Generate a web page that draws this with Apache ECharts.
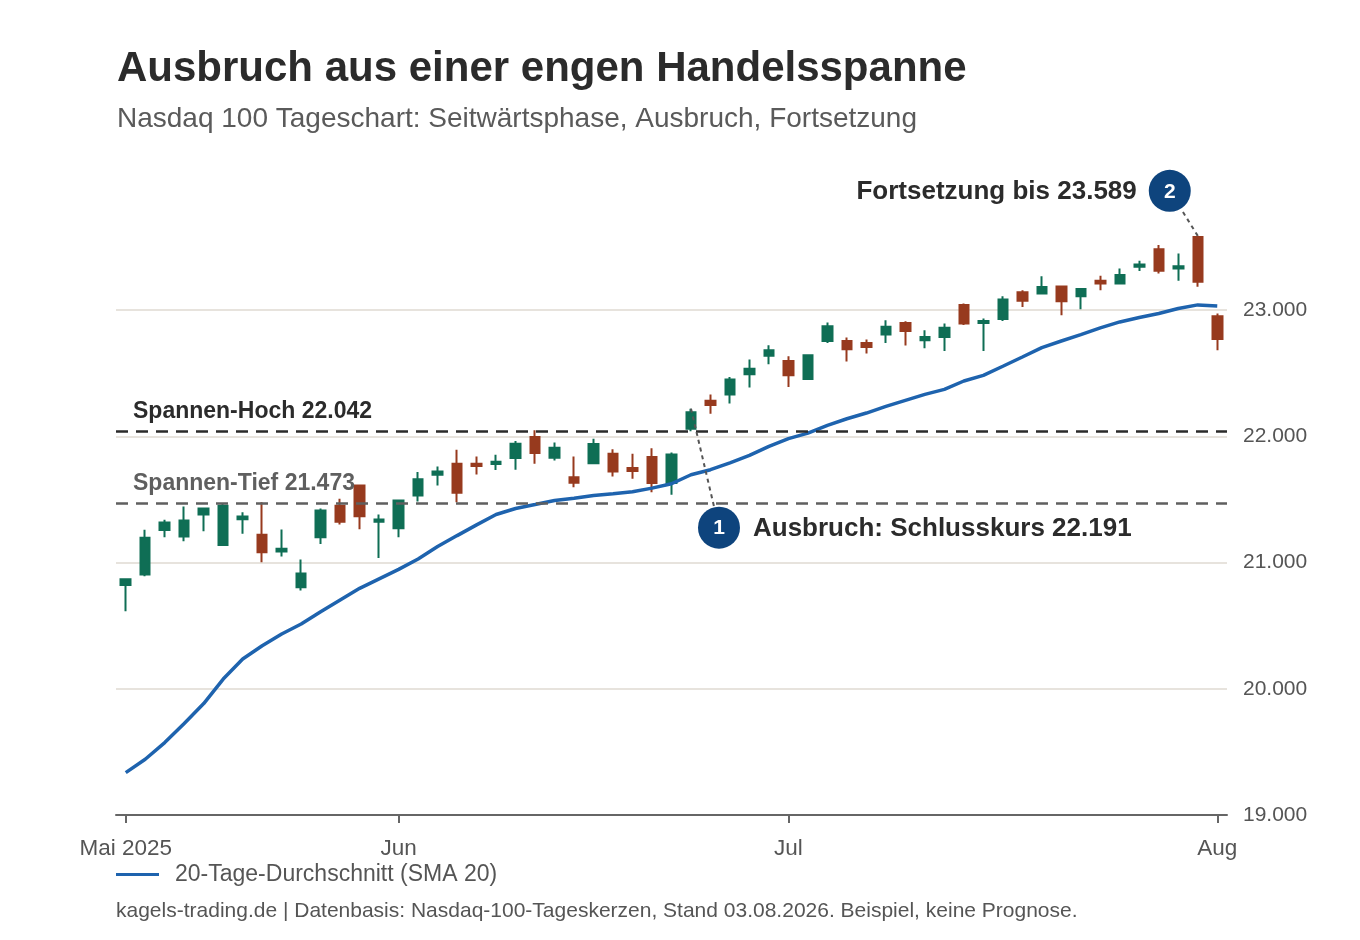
<!DOCTYPE html>
<html>
<head>
<meta charset="utf-8">
<title>Ausbruch aus einer engen Handelsspanne</title>
<script src="https://cdn.jsdelivr.net/npm/echarts@6.0.0/dist/echarts.min.js"></script>
<style>
  html, body { margin: 0; padding: 0; background: #fff; }
  #chart { width: 1360px; height: 940px; }
</style>
</head>
<body>
<div id="chart"></div>
<script>
// Handelstage 12.05. - 01.08.2025
const dates = [
  '2025-05-12','2025-05-13','2025-05-14','2025-05-15','2025-05-16','2025-05-19','2025-05-20',
  '2025-05-21','2025-05-22','2025-05-23','2025-05-27','2025-05-28','2025-05-29','2025-05-30',
  '2025-06-02','2025-06-03','2025-06-04','2025-06-05','2025-06-06','2025-06-09','2025-06-10',
  '2025-06-11','2025-06-12','2025-06-13','2025-06-16','2025-06-17','2025-06-18','2025-06-20',
  '2025-06-23','2025-06-24','2025-06-25','2025-06-26','2025-06-27','2025-06-30',
  '2025-07-01','2025-07-02','2025-07-03','2025-07-07','2025-07-08','2025-07-09','2025-07-10',
  '2025-07-11','2025-07-14','2025-07-15','2025-07-16','2025-07-17','2025-07-18','2025-07-21',
  '2025-07-22','2025-07-23','2025-07-24','2025-07-25','2025-07-28','2025-07-29','2025-07-30',
  '2025-07-31','2025-08-01'
];
const opens = [
  20823, 20905, 21259, 21206, 21381, 21140, 21344, 21220, 21087, 20804, 21201, 21450, 21611, 21323,
  21272, 21532, 21696, 21783, 21783, 21781, 21828, 21995, 21831, 21677, 21788, 21862, 21749, 21836,
  21630, 22060, 22283, 22333, 22492, 22640,
  22598, 22455, 22756, 22756, 22740, 22807, 22899, 22762, 22788, 23042, 22899, 22931, 23143, 23132,
  23188, 23111, 23233, 23212, 23344, 23482, 23331, 23580, 22952
];
const closes = [
  20868, 21196, 21317, 21333, 21429, 21450, 21365, 21082, 21109, 20913, 21413, 21323, 21368, 21341,
  21492, 21661, 21722, 21553, 21765, 21799, 21942, 21868, 21910, 21632, 21939, 21722, 21725, 21630,
  21857, 22191, 22249, 22450, 22537, 22683,
  22484, 22643, 22873, 22690, 22709, 22868, 22836, 22788, 22860, 22894, 22915, 23085, 23074, 23183,
  23071, 23167, 23212, 23278, 23363, 23312, 23349, 23225, 22772
];
const lows = [
  20614, 20891, 21201, 21169, 21248, 21135, 21228, 21002, 21048, 20778, 21148, 21302, 21265, 21037,
  21201, 21484, 21611, 21479, 21698, 21733, 21736, 21783, 21810, 21598, 21780, 21683, 21664, 21558,
  21537, 22040, 22180, 22260, 22387, 22571,
  22391, 22450, 22740, 22593, 22656, 22740, 22720, 22698, 22677, 22883, 22677, 22915, 23026, 23128,
  22960, 23008, 23159, 23204, 23310, 23291, 23233, 23185, 22683
];
const highs = [
  20875, 21260, 21339, 21444, 21435, 21466, 21399, 21479, 21262, 21024, 21429, 21505, 21615, 21381,
  21500, 21717, 21762, 21894, 21841, 21855, 21963, 22048, 21952, 21841, 21982, 21899, 21862, 21907,
  21873, 22220, 22333, 22471, 22609, 22722,
  22635, 22651, 22902, 22783, 22767, 22921, 22913, 22841, 22894, 23053, 22934, 23111, 23159, 23270,
  23192, 23175, 23272, 23331, 23391, 23516, 23450, 23589, 22974
];
const sma20 = [
  19336, 19442, 19574, 19725, 19883, 20077, 20236, 20341, 20434, 20513, 20611, 20704, 20796, 20871,
  20946, 21029, 21127, 21214, 21299, 21381, 21429, 21460, 21492, 21510, 21532, 21545, 21561, 21590,
  21625, 21696, 21736, 21791, 21849, 21921,
  21982, 22026, 22087, 22140, 22185, 22238, 22286, 22333, 22373, 22439, 22484, 22556, 22629, 22704,
  22756, 22807, 22860, 22907, 22942, 22974, 23013, 23042, 23034
];
const tickMonths = ['2025-05', '2025-06', '2025-07', '2025-08'];
const tickLabels = ['Mai 2025', 'Jun', 'Jul', 'Aug'];
const rangeHigh = 22042;
const rangeLow = 21473;
const breakoutIdx = 29;   // 24.06.
const peakIdx = 55;       // 31.07.

const FONT = "'Liberation Sans', Arial, Helvetica, sans-serif";
const UP = '#0f6e55';
const DOWN = '#973a1e';
const NAVY = '#0e447d';
const INK = '#2b2b2b';
const GREY = '#555555';

const fmt = v => String(v).replace(/\B(?=(\d{3})+(?!\d))/g, '.');
const isMonthStart = i => i === 0 || dates[i].slice(0, 7) !== dates[i - 1].slice(0, 7);

const candles = dates.map((d, i) => [opens[i], closes[i], lows[i], highs[i]]);

const chart = echarts.init(document.getElementById('chart'));

const option = {
  backgroundColor: '#fff',
  animation: false,
  textStyle: { fontFamily: FONT },
  title: {
    text: 'Ausbruch aus einer engen Handelsspanne',
    subtext: 'Nasdaq 100 Tageschart: Seitwärtsphase, Ausbruch, Fortsetzung',
    left: 112,
    top: 40,
    itemGap: 11,
    textStyle: { fontFamily: FONT, fontSize: 42, fontWeight: 'bold', color: INK, lineHeight: 48 },
    subtextStyle: { fontFamily: FONT, fontSize: 28, color: '#5a5a5a', lineHeight: 30 }
  },
  legend: {
    data: ['20-Tage-Durchschnitt (SMA 20)'],
    left: 116,
    top: 863,
    padding: 0,
    icon: 'rect',
    itemWidth: 43,
    itemHeight: 3,
    textStyle: { fontFamily: FONT, fontSize: 23, color: GREY, lineHeight: 23, padding: [0, 0, 0, 11] }
  },
  grid: { left: 116, right: 133, top: 184, bottom: 125, containLabel: false },
  xAxis: {
    type: 'category',
    data: dates,
    boundaryGap: true,
    axisLine: { show: true, lineStyle: { color: '#666', width: 2 } },
    axisTick: {
      show: true,
      alignWithLabel: true,
      interval: i => isMonthStart(i),
      length: 8,
      lineStyle: { color: '#666', width: 2 }
    },
    axisLabel: {
      interval: i => isMonthStart(i),
      margin: 22,
      fontSize: 22.5,
      color: GREY,
      fontFamily: FONT,
      formatter: v => tickLabels[tickMonths.indexOf(v.slice(0, 7))]
    },
    splitLine: { show: false }
  },
  yAxis: {
    type: 'value',
    position: 'right',
    min: 19000,
    max: 24000,
    interval: 1000,
    axisLine: { show: false },
    axisTick: { show: false },
    axisLabel: {
      margin: 16,
      fontSize: 21,
      color: GREY,
      fontFamily: FONT,
      formatter: v => (v >= 24000 ? '' : fmt(v))
    },
    splitLine: {
      show: true,
      showMinLine: false,
      showMaxLine: false,
      lineStyle: { color: '#e7e3dd', width: 2 }
    }
  },
  series: [
    {
      name: 'Nasdaq 100',
      type: 'candlestick',
      data: candles,
      barWidth: 10,
      itemStyle: {
        color: UP,
        color0: DOWN,
        borderColor: UP,
        borderColor0: DOWN,
        borderWidth: 2
      },
      z: 2,
      markLine: {
        silent: true,
        symbol: ['none', 'none'],
        data: [
          {
            yAxis: rangeHigh,
            lineStyle: { color: INK, width: 2.5, type: [12, 8] },
            label: { formatter: 'Spannen-Hoch ' + fmt(rangeHigh), color: INK }
          },
          {
            yAxis: rangeLow,
            lineStyle: { color: '#5f5f5f', width: 2.5, type: [12, 8] },
            label: { formatter: 'Spannen-Tief ' + fmt(rangeLow), color: '#5f5f5f' }
          }
        ],
        label: {
          show: true,
          position: 'insideStartTop',
          distance: [17, 8],
          fontFamily: FONT,
          fontSize: 23,
          fontWeight: 'bold'
        }
      }
    },
    {
      name: '20-Tage-Durchschnitt (SMA 20)',
      type: 'line',
      data: sma20,
      showSymbol: false,
      symbol: 'none',
      color: '#1e63ae',
      lineStyle: { color: '#1e63ae', width: 3.5 },
      z: 3
    }
  ]
};

chart.setOption(option);

// Markierungen 1 und 2 an den Kerzen verankern
const R = 21;
function note(num, idx, value, dx, dy, text, side) {
  const p = chart.convertToPixel({ seriesIndex: 0 }, [idx, value]);
  const c = [p[0] + dx, p[1] + dy];
  const len = Math.hypot(dx, dy);
  const edge = [c[0] - dx / len * R, c[1] - dy / len * R];
  return [
    {
      type: 'line', z: 20,
      shape: { x1: p[0], y1: p[1], x2: edge[0], y2: edge[1] },
      style: { stroke: GREY, lineWidth: 2, lineDash: [4, 4] }
    },
    {
      type: 'circle', z: 21,
      shape: { cx: c[0], cy: c[1], r: R },
      style: { fill: NAVY }
    },
    {
      type: 'text', z: 22, x: c[0], y: c[1] + 1,
      style: { text: String(num), fill: '#fff', font: 'bold 21px ' + FONT, align: 'center', verticalAlign: 'middle' }
    },
    {
      type: 'text', z: 22, x: side > 0 ? c[0] + 34 : c[0] - 33, y: c[1] + 1,
      style: { text: text, fill: INK, font: 'bold 26px ' + FONT, align: side > 0 ? 'left' : 'right', verticalAlign: 'middle' }
    }
  ];
}

chart.setOption({
  graphic: [].concat(
    note(1, breakoutIdx, highs[breakoutIdx], 28, 119, 'Ausbruch: Schlusskurs ' + fmt(closes[breakoutIdx]), 1),
    note(2, peakIdx, highs[peakIdx], -28, -45, 'Fortsetzung bis ' + fmt(highs[peakIdx]), -1),
    [{
      type: 'text', x: 116, y: 911,
      style: {
        text: 'kagels-trading.de | Datenbasis: Nasdaq-100-Tageskerzen, Stand 03.08.2026. Beispiel, keine Prognose.',
        fill: GREY, font: '21px ' + FONT, verticalAlign: 'middle'
      }
    }]
  )
});
</script>
</body>
</html>
